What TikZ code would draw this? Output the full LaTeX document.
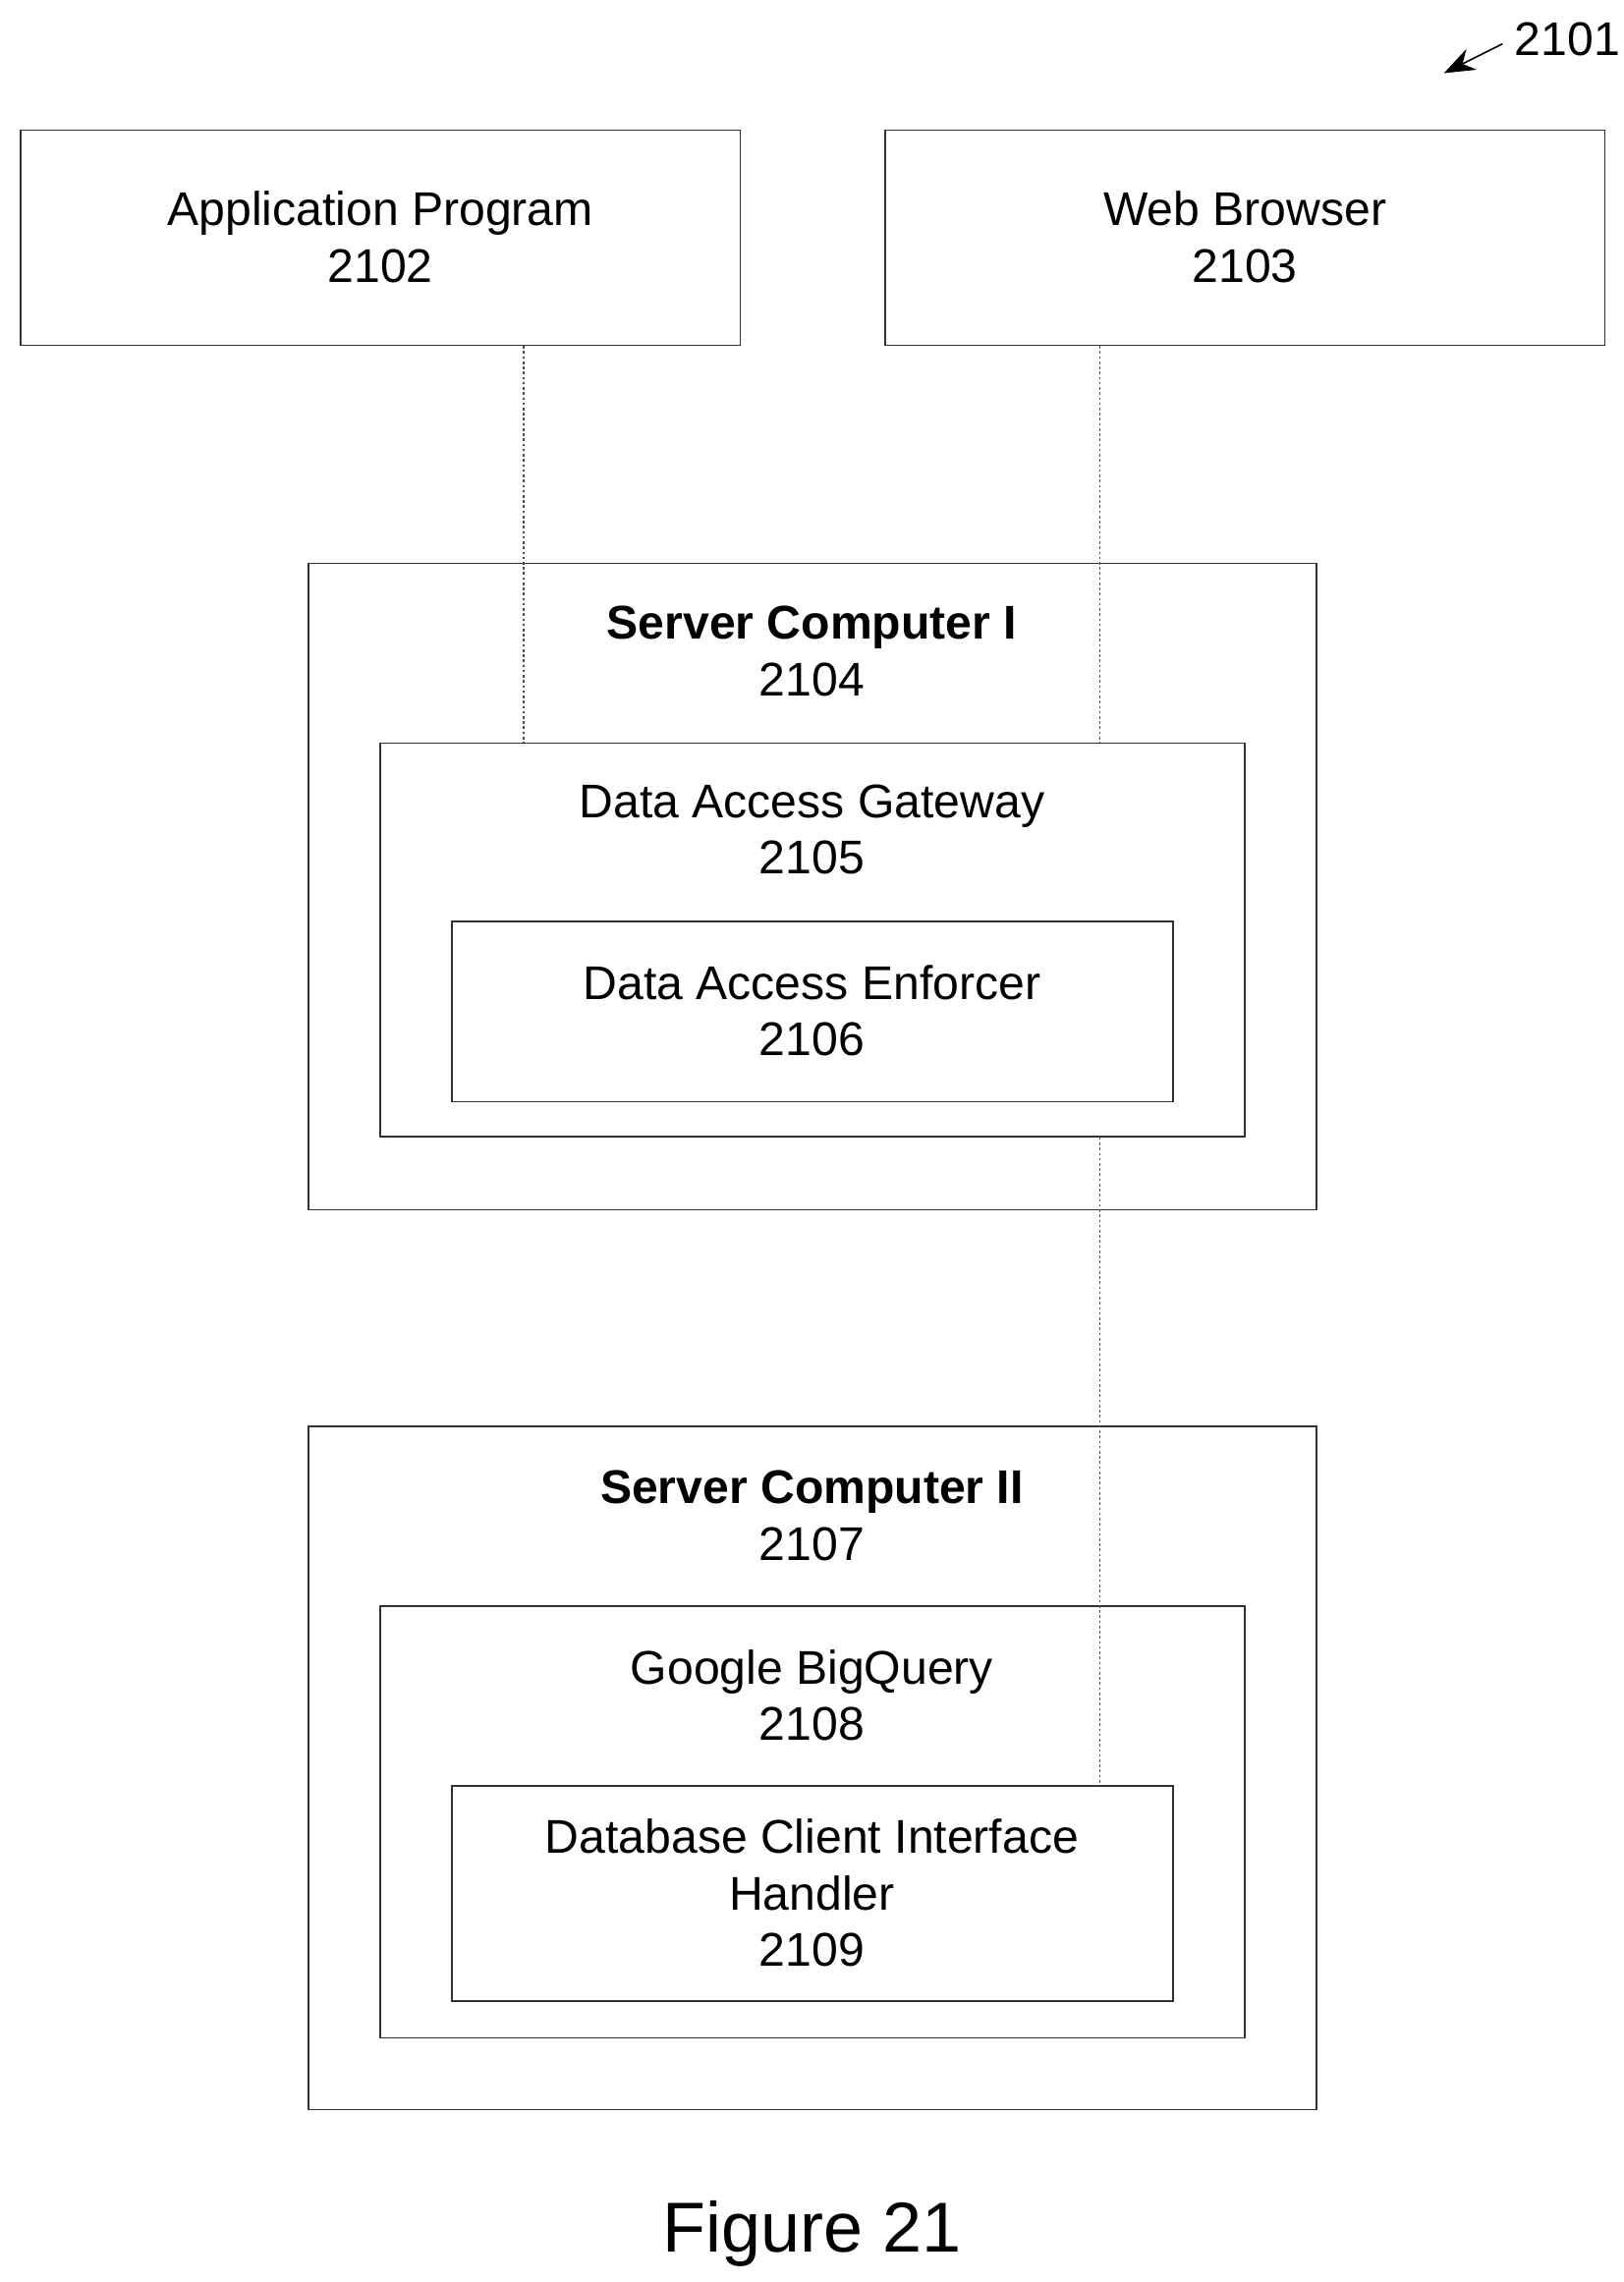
\documentclass[tikz,border=0pt]{standalone}
\usepackage{fontspec}
\setmainfont{Liberation Sans}
\usetikzlibrary{arrows.meta}
\begin{document}
\begin{tikzpicture}[x=0.02cm,y=-0.02cm,
  box/.style={draw=black!80,line width=0.6pt,inner sep=0},
  lbl/.style={font=\fontsize{18.4}{22}\selectfont,align=center,inner sep=0},
  conn/.style={draw=black!70,line width=0.5pt,dash pattern=on 1pt off 1pt}]
\useasboundingbox (0,0) rectangle (1110,1560);
\newcommand{\bx}[5]{\node[box,minimum width=(#4-#2)*0.02cm,minimum height=(#5-#3)*0.02cm] (#1) at ({(#2+#4)/2},{(#3+#5)/2}) {};}
\bx{app}{14}{89}{506}{236}
\bx{web}{605}{89}{1097}{236}
\bx{s1}{211}{385}{900}{827}
\bx{dag}{260}{508}{851}{777}
\bx{dae}{309}{630}{802}{753}
\bx{s2}{211}{975}{900}{1442}
\bx{bq}{260}{1098}{851}{1393}
\bx{dc}{309}{1221}{802}{1368}
\node[lbl] (tapp) at (260,162) {Application Program\\2102};
\node[lbl] (tweb) at (851,162) {Web Browser\\2103};
\node[lbl] (ts1) at (555,445) {\textbf{Server Computer I}\\2104};
\node[lbl] (tdag) at (555,567) {Data Access Gateway\\2105};
\node[lbl] (tdae) at (555,691) {Data Access Enforcer\\2106};
\node[lbl] (ts2) at (555,1036) {\textbf{Server Computer II}\\2107};
\node[lbl] (tbq) at (555,1159) {Google BigQuery\\2108};
\node[lbl] (tdc) at (555,1294) {Database Client Interface\\Handler\\2109};
\node[font=\fontsize{27.5}{30}\selectfont,inner sep=0] (fig) at (555,1527) {Figure 21};
\node[lbl,anchor=west] (ref) at (1035,27) {2101};
\coordinate (c1) at (358,0); \coordinate (c2) at (752,0);
\draw[conn] (app.south -| c1) -- (dag.north -| c1);
\draw[conn] (web.south -| c2) -- (dag.north -| c2);
\draw[conn] (dag.south -| c2) -- (dc.north -| c2);
\draw[line width=0.6pt,-{Stealth[length=12pt,width=9pt]}] (ref.west) ++(-8,3) coordinate (r0) -- (987,50);
\end{tikzpicture}
\end{document}
